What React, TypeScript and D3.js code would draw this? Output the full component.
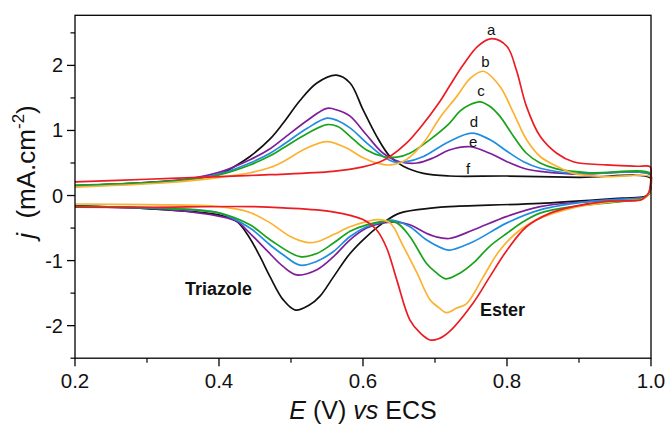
import React from 'react';
import * as d3 from 'd3';

const W = 667;
const H = 431;

const xMajorTicks = [0.2, 0.4, 0.6, 0.8, 1.0];
const xTickLabels = ['0.2', '0.4', '0.6', '0.8', '1.0'];
const xMinorTicks = [0.3, 0.5, 0.7, 0.9];
const yMajorTicks = [-2, -1, 0, 1, 2];
const yTickLabels = ['-2', '-1', '0', '1', '2'];
const yMinorTicks = [-2.5, -1.5, -0.5, 0.5, 1.5, 2.5];

// a: red (Ester)
const aForward: [number, number][] = [
  [0.2, 0.21], [0.3, 0.25], [0.4, 0.29], [0.47, 0.32], [0.558, 0.37], [0.6, 0.44], [0.624, 0.52],
  [0.6375, 0.6], [0.66, 0.8], [0.68, 1.05], [0.707, 1.45], [0.72, 1.68], [0.74, 2.02], [0.76, 2.3],
  [0.779, 2.41], [0.8, 2.29], [0.813, 1.93], [0.827, 1.37], [0.846, 0.91], [0.869, 0.65],
  [0.892, 0.52], [0.938, 0.47], [0.98, 0.45], [0.999, 0.44],
];
const aReverse: [number, number][] = [
  [1.0, 0.3], [0.997, 0.05], [0.99, -0.04], [0.985, -0.07], [0.938, -0.09], [0.892, -0.17],
  [0.86, -0.27], [0.827, -0.48], [0.8, -0.84], [0.776, -1.25], [0.753, -1.65], [0.72, -2.09],
  [0.705, -2.2], [0.693, -2.22], [0.68, -2.12], [0.665, -1.91], [0.647, -1.3], [0.633, -0.81],
  [0.619, -0.53], [0.6, -0.37], [0.558, -0.25], [0.489, -0.19], [0.443, -0.17], [0.3, -0.18], [0.2, -0.18],
];

// b: orange
const bForward: [number, number][] = [
  [0.2, 0.13], [0.332, 0.2], [0.401, 0.28], [0.443, 0.35], [0.471, 0.43], [0.489, 0.52], [0.522, 0.73],
  [0.55, 0.83], [0.577, 0.73], [0.6, 0.58], [0.619, 0.5], [0.6375, 0.47], [0.66, 0.55], [0.684, 0.81],
  [0.707, 1.2], [0.73, 1.52], [0.749, 1.8], [0.767, 1.91], [0.79, 1.68], [0.809, 1.27], [0.827, 0.86],
  [0.846, 0.6], [0.869, 0.45], [0.892, 0.34], [0.938, 0.29], [0.999, 0.29],
];
const bReverse: [number, number][] = [
  [1.0, 0.2], [0.997, 0.03], [0.99, -0.05], [0.96, -0.08], [0.892, -0.19], [0.846, -0.35],
  [0.818, -0.53], [0.79, -0.84], [0.767, -1.25], [0.744, -1.66], [0.73, -1.73], [0.716, -1.8],
  [0.705, -1.72], [0.693, -1.6], [0.675, -1.19], [0.656, -0.78], [0.6375, -0.42], [0.621, -0.37],
  [0.605, -0.4], [0.582, -0.48], [0.559, -0.6], [0.536, -0.71], [0.522, -0.72], [0.499, -0.63],
  [0.471, -0.42], [0.443, -0.26], [0.401, -0.17], [0.3, -0.14], [0.2, -0.13],
];

// c: green
const cForward: [number, number][] = [
  [0.2, 0.16], [0.3, 0.2], [0.36, 0.25], [0.401, 0.32], [0.443, 0.47], [0.471, 0.61], [0.489, 0.73],
  [0.522, 0.95], [0.55, 1.09], [0.565, 1.06], [0.582, 0.91], [0.605, 0.7], [0.628, 0.6], [0.647, 0.59],
  [0.665, 0.65], [0.693, 0.86], [0.72, 1.11], [0.735, 1.3], [0.749, 1.4], [0.7625, 1.44], [0.775, 1.38],
  [0.79, 1.22], [0.809, 0.91], [0.827, 0.65], [0.846, 0.5], [0.869, 0.41], [0.915, 0.35], [0.999, 0.34],
];
const cReverse: [number, number][] = [
  [1.0, 0.2], [0.997, 0.02], [0.99, -0.04], [0.96, -0.09], [0.892, -0.17], [0.846, -0.27],
  [0.823, -0.4], [0.8, -0.58], [0.776, -0.78], [0.753, -1.04], [0.735, -1.19], [0.715, -1.28],
  [0.7, -1.17], [0.688, -1.04], [0.665, -0.63], [0.647, -0.42], [0.628, -0.4], [0.605, -0.45],
  [0.582, -0.55], [0.559, -0.73], [0.536, -0.89], [0.5125, -0.94], [0.471, -0.68], [0.443, -0.45],
  [0.401, -0.27], [0.332, -0.2], [0.2, -0.17],
];

// d: blue
const dForward: [number, number][] = [
  [0.2, 0.14], [0.3, 0.19], [0.36, 0.25], [0.401, 0.33], [0.443, 0.5], [0.471, 0.65], [0.489, 0.78],
  [0.522, 1.03], [0.55, 1.19], [0.565, 1.15], [0.582, 1.04], [0.605, 0.81], [0.628, 0.6], [0.642, 0.52],
  [0.66, 0.52], [0.684, 0.6], [0.707, 0.75], [0.72, 0.83], [0.751, 0.96], [0.776, 0.86], [0.8, 0.68],
  [0.823, 0.52], [0.846, 0.42], [0.892, 0.34], [0.999, 0.32],
];
const dReverse: [number, number][] = [
  [1.0, 0.2], [0.997, 0.02], [0.99, -0.03], [0.985, -0.04], [0.915, -0.09], [0.846, -0.22],
  [0.8, -0.42], [0.753, -0.71], [0.72, -0.84], [0.712, -0.82], [0.688, -0.68], [0.665, -0.48],
  [0.642, -0.38], [0.628, -0.4], [0.605, -0.48], [0.582, -0.63], [0.559, -0.86], [0.536, -1.01],
  [0.5125, -1.07], [0.489, -0.91], [0.471, -0.76], [0.443, -0.5], [0.401, -0.27], [0.332, -0.2], [0.2, -0.17],
];

// e: purple
const eForward: [number, number][] = [
  [0.2, 0.15], [0.3, 0.2], [0.36, 0.26], [0.401, 0.36], [0.443, 0.55], [0.471, 0.72], [0.489, 0.87],
  [0.522, 1.15], [0.55, 1.34], [0.565, 1.31], [0.582, 1.22], [0.605, 0.93], [0.628, 0.65], [0.651, 0.52],
  [0.675, 0.5], [0.698, 0.58], [0.72, 0.7], [0.749, 0.75], [0.776, 0.65], [0.8, 0.52], [0.823, 0.42],
  [0.846, 0.37], [0.892, 0.33], [0.999, 0.32],
];
const eReverse: [number, number][] = [
  [1.0, 0.2], [0.997, 0.02], [0.99, -0.03], [0.985, -0.04], [0.915, -0.09], [0.846, -0.17],
  [0.8, -0.32], [0.753, -0.53], [0.72, -0.66], [0.7, -0.63], [0.688, -0.58], [0.665, -0.45],
  [0.647, -0.41], [0.628, -0.42], [0.605, -0.5], [0.582, -0.68], [0.559, -0.94], [0.536, -1.14],
  [0.508, -1.22], [0.489, -1.09], [0.466, -0.84], [0.443, -0.58], [0.425, -0.4], [0.401, -0.32],
  [0.332, -0.22], [0.2, -0.17],
];

// f: black (Triazole)
const fForward: [number, number][] = [
  [0.2, 0.15], [0.3, 0.2], [0.36, 0.25], [0.401, 0.33], [0.425, 0.47], [0.443, 0.6], [0.471, 0.87],
  [0.489, 1.11], [0.5125, 1.46], [0.536, 1.73], [0.563, 1.85], [0.582, 1.73], [0.6, 1.32], [0.619, 0.91],
  [0.6375, 0.6], [0.656, 0.45], [0.684, 0.34], [0.72, 0.3], [0.8, 0.3], [0.9, 0.28], [0.999, 0.27],
];
const fReverse: [number, number][] = [
  [1.0, 0.15], [0.997, 0.02], [0.99, -0.02], [0.96, -0.04], [0.846, -0.12], [0.72, -0.17],
  [0.698, -0.19], [0.651, -0.27], [0.628, -0.42], [0.605, -0.63], [0.582, -0.89], [0.559, -1.25],
  [0.54, -1.55], [0.526, -1.68], [0.506, -1.76], [0.489, -1.6], [0.471, -1.25], [0.457, -0.94],
  [0.443, -0.66], [0.425, -0.4], [0.401, -0.3], [0.3, -0.2], [0.2, -0.16],
];

const seriesNames = ['a', 'b', 'c', 'd', 'e', 'f'];
const seriesColors = ['#ec1c24', '#fcb131', '#1aa31a', '#1f8ee0', '#7f1e9c', '#111111'];
const seriesForward = [aForward, bForward, cForward, dForward, eForward, fForward];
const seriesReverse = [aReverse, bReverse, cReverse, dReverse, eReverse, fReverse];
const letterPos: [number, number][] = [
  [0.778, 2.55], [0.77, 2.05], [0.764, 1.6], [0.754, 1.13], [0.753, 0.82], [0.746, 0.41],
];
const drawOrder = [5, 4, 3, 2, 1, 0];

export default function App() {
  const left = 75, right = 651, top = 15.3, bottom = 358.2;
  const x = d3.scaleLinear().domain([0.2, 1.0]).range([left, right]);
  const y = d3.scaleLinear().domain([-2.5, 2.77]).range([bottom, top]);
  const line = d3
    .line<[number, number]>()
    .x((d) => x(d[0]))
    .y((d) => y(d[1]))
    .curve(d3.curveCatmullRom.alpha(0.5));
  const font = '"Liberation Sans", Arial, sans-serif';

  return (
    <svg width={W} height={H} style={{ position: 'absolute', left: 0, top: 0, background: '#fff' }}>
      <defs>
        <clipPath id="plotclip">
          <rect x={left} y={top} width={right - left + 1.5} height={bottom - top} />
        </clipPath>
      </defs>
      <rect x={0} y={0} width={W} height={H} fill="#fff" />
      <g clipPath="url(#plotclip)">
        {drawOrder.map((i) => (
          <path
            key={seriesNames[i]}
            d={line([...seriesForward[i], ...seriesReverse[i]]) || ''}
            fill="none"
            stroke={seriesColors[i]}
            strokeWidth={1.7}
            strokeLinejoin="round"
          />
        ))}
      </g>
      {/* frame */}
      <rect x={left} y={top} width={right - left} height={bottom - top} fill="none" stroke="#000" strokeWidth={1.3} />
      {/* x ticks */}
      {xMajorTicks.map((t, i) => (
        <g key={'xm' + i}>
          <line x1={x(t)} x2={x(t)} y1={bottom} y2={bottom + 8} stroke="#000" strokeWidth={1.3} />
          <text x={x(t)} y={bottom + 30} textAnchor="middle" fontFamily={font} fontSize={20.5} fill="#111">
            {xTickLabels[i]}
          </text>
        </g>
      ))}
      {xMinorTicks.map((t, i) => (
        <line key={'xn' + i} x1={x(t)} x2={x(t)} y1={bottom} y2={bottom + 4.5} stroke="#000" strokeWidth={1.2} />
      ))}
      {/* y ticks */}
      {yMajorTicks.map((t, i) => (
        <g key={'ym' + i}>
          <line x1={left - 8} x2={left} y1={y(t)} y2={y(t)} stroke="#000" strokeWidth={1.3} />
          <text x={left - 12} y={y(t) + 7} textAnchor="end" fontFamily={font} fontSize={20} fill="#111">
            {yTickLabels[i]}
          </text>
        </g>
      ))}
      {yMinorTicks.map((t, i) => (
        <line key={'yn' + i} x1={left - 4.5} x2={left} y1={y(t)} y2={y(t)} stroke="#000" strokeWidth={1.2} />
      ))}
      {/* axis titles */}
      <text x={363} y={419} textAnchor="middle" fontFamily={font} fontSize={25} fill="#111">
        <tspan fontStyle="italic">E</tspan>
        <tspan> (V) </tspan>
        <tspan fontStyle="italic">vs</tspan>
        <tspan> ECS</tspan>
      </text>
      <text
        transform={`translate(35, 172) rotate(-90)`}
        textAnchor="middle"
        fontFamily={font}
        fontSize={26}
        fill="#111"
      >
        <tspan fontStyle="italic">j</tspan>
        <tspan>{'\u00a0\u00a0(mA.cm'}</tspan>
        <tspan fontSize={17} dy={-11}>-2</tspan>
        <tspan dy={11}>)</tspan>
      </text>
      {/* series letters */}
      {seriesNames.map((n, i) => (
        <text
          key={'lab' + n}
          x={x(letterPos[i][0])}
          y={y(letterPos[i][1]) + 5}
          textAnchor="middle"
          fontFamily={font}
          fontSize={15}
          fill="#111"
        >
          {n}
        </text>
      ))}
      <text x={185} y={295} fontFamily={font} fontSize={18} fontWeight="bold" fill="#111">
        Triazole
      </text>
      <text x={480} y={316} fontFamily={font} fontSize={18} fontWeight="bold" fill="#111">
        Ester
      </text>
    </svg>
  );
}
